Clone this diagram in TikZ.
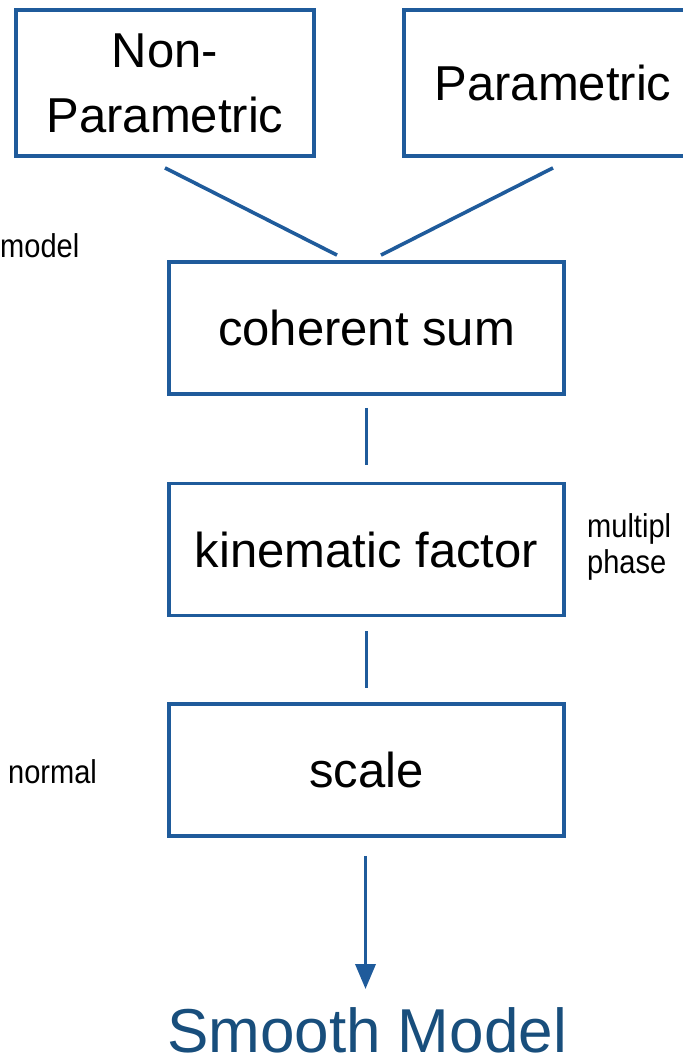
\documentclass[tikz,border=0pt]{standalone}
\usepackage{fontspec}
\setmainfont{Liberation Sans}
\newfontfamily\narrowsans[FakeStretch=0.88]{Liberation Sans}
\usetikzlibrary{arrows.meta}
\definecolor{boxblue}{RGB}{31,91,155}
\definecolor{titleblue}{RGB}{24,78,124}
\begin{document}
\begin{tikzpicture}[x=1pt,y=-1pt,
  stagebox/.style={draw=boxblue,line width=3.8pt,minimum width=395pt,minimum height=132pt,inner sep=0pt,font=\fontsize{49}{65}\selectfont,align=center},
  link/.style={draw=boxblue,line width=3.6pt},
  sidenote/.style={font=\narrowsans\fontsize{33}{36}\selectfont,inner sep=0pt,anchor=base west}]
\useasboundingbox (0,0) rectangle (683,1061);
\node[stagebox,minimum width=298pt,minimum height=146pt] (np) at (165,83) {Non-\\Parametric};
\node[stagebox,minimum width=298pt,minimum height=146pt] (pm) at (553,83) {Parametric};
\node[stagebox] (cs) at (366.5,328) {coherent sum};
\node[stagebox] (kf) at (366.5,549.5) {kinematic factor};
\node[stagebox] (sc) at (366.5,770) {scale};
\node[font=\fontsize{62}{62}\selectfont,text=titleblue,anchor=base,inner sep=0pt] (sm) at (367,1052) {Smooth Model};
\coordinate (arrowend) at (365.5,989);
\draw[link] ([yshift=-10pt]np.south) -- ([xshift=-29.5pt,yshift=5pt]cs.north);
\draw[link] ([yshift=-10pt]pm.south) -- ([xshift=14.5pt,yshift=5pt]cs.north);
\draw[link] ([yshift=-12pt]cs.south) -- ([yshift=17pt]kf.north);
\draw[link] ([yshift=-14pt]kf.south) -- ([yshift=14pt]sc.north);
\draw[link,-{Triangle[width=20pt,length=25pt]}] ([xshift=-1pt,yshift=-18pt]sc.south) -- (arrowend);
\node[sidenote] (nmodel) at (0,257) {model};
\node[sidenote] (nmult) at (587,537) {multipl};
\node[sidenote] (nphase) at (587,573) {phase};
\node[sidenote] (nnormal) at (8,783) {normal};
\end{tikzpicture}
\end{document}
